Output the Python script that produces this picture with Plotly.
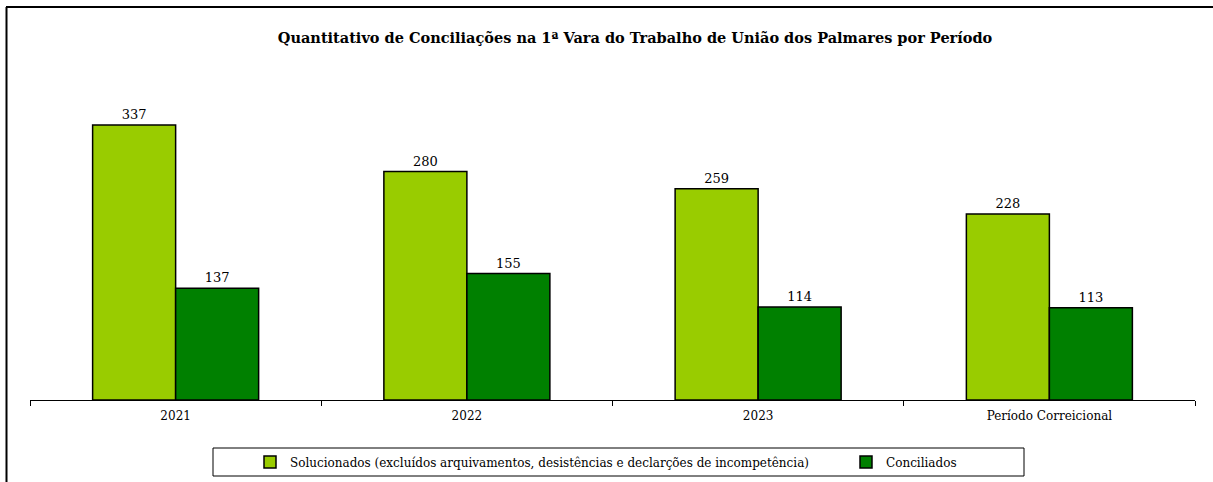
import plotly.graph_objects as go

categories = ["2021", "2022", "2023", "Período Correicional"]
solucionados = [337, 280, 259, 228]
conciliados = [137, 155, 114, 113]
series_names = [
    "Solucionados (excluídos arquivamentos, desistências e declarções de incompetência)",
    "Conciliados",
]
title = "Quantitativo de Conciliações na 1ª Vara do Trabalho de União dos Palmares por Período"

W, H = 1213, 482
L, R, T, B = 30, 18, 85, 82  # plot area 30..1195 x, 85..400 y
pw = W - L - R
ph = H - T - B

def px_x(p):
    return (p - L) / pw

def px_y(p):
    return (H - B - p) / ph

def cx(p):
    return p / W

def cy(p):
    return 1 - p / H

serif = "DejaVu Serif, Liberation Serif, serif"

fig = go.Figure()
fig.add_trace(go.Bar(
    x=categories, y=solucionados, name=series_names[0], legend="legend",
    marker=dict(color="#99CC00", line=dict(color="black", width=1.5)),
    text=solucionados, textposition="outside", cliponaxis=False,
    textfont=dict(family=serif, size=13, color="black"),
))
fig.add_trace(go.Bar(
    x=categories, y=conciliados, name=series_names[1], legend="legend2",
    marker=dict(color="#008000", line=dict(color="black", width=1.5)),
    text=conciliados, textposition="outside", cliponaxis=False,
    textfont=dict(family=serif, size=13, color="black"),
))

legend_common = dict(orientation="h", xref="container", yref="container",
                     xanchor="left", yanchor="middle",
                     font=dict(family=serif, size=12, color="black"),
                     bgcolor="rgba(0,0,0,0)", itemwidth=30)

fig.update_layout(
    width=W, height=H,
    margin=dict(l=L, r=R, t=T, b=B, autoexpand=False),
    paper_bgcolor="white", plot_bgcolor="white",
    barmode="group", bargap=0.43, bargroupgap=0,
    title=dict(text="<b>" + title + "</b>", x=cx(635), xanchor="center", xref="container",
               y=cy(38), yanchor="middle",
               font=dict(family=serif, size=14.5, color="black")),
    showlegend=True,
    legend=dict(x=cx(250), y=cy(462), **legend_common),
    legend2=dict(x=cx(846), y=cy(462), **legend_common),
    xaxis=dict(showline=True, linecolor="black", linewidth=1, ticks="outside", ticklen=5,
               tickcolor="black", tickson="boundaries", showgrid=False, ticklabelstandoff=5,
               tickfont=dict(family=serif, size=12, color="black")),
    yaxis=dict(visible=False, range=[0, 386], showgrid=False),
    shapes=[
        dict(type="rect", xref="paper", yref="paper", x0=px_x(213), x1=px_x(1024),
             y0=px_y(448), y1=px_y(476), line=dict(color="black", width=1)),
        dict(type="line", xref="paper", yref="paper", x0=px_x(6.5), x1=px_x(6.5),
             y0=px_y(7), y1=px_y(482), line=dict(color="black", width=2)),
        dict(type="line", xref="paper", yref="paper", x0=px_x(6), x1=px_x(1213),
             y0=px_y(7), y1=px_y(7), line=dict(color="black", width=2)),
    ],
)

fig.write_html("out.html", config={"displayModeBar": False},
               post_script="document.body.style.margin='0';")
